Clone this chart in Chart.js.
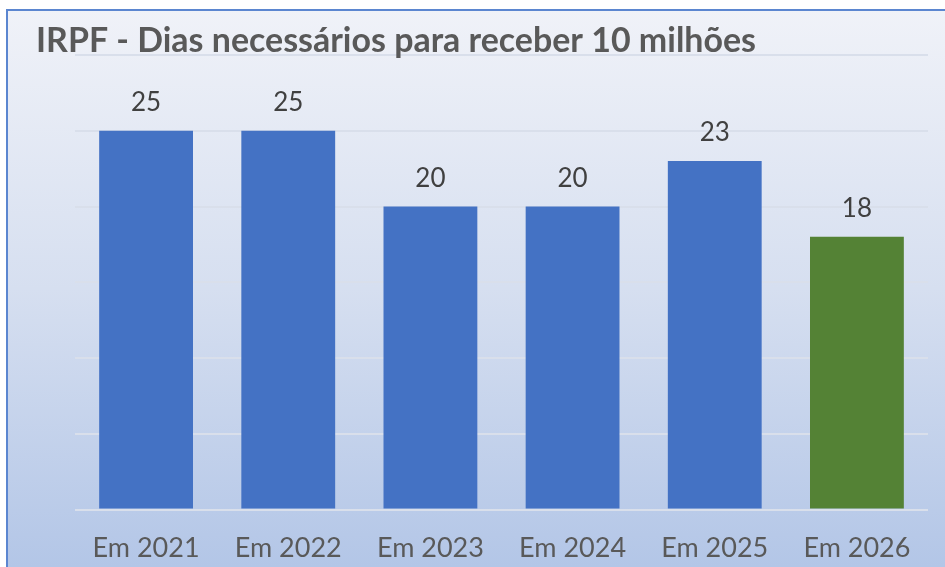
<!DOCTYPE html>
<html>
<head>
<meta charset="utf-8">
<script src="https://cdn.jsdelivr.net/npm/chart.js@4/dist/chart.umd.min.js"></script>
<style>
  html, body { margin: 0; padding: 0; background: #fff; }
  #wrap { width: 945px; height: 567px; }
</style>
</head>
<body>
<div id="wrap"><canvas id="chart" width="945" height="567"></canvas></div>
<script>
const ctx = document.getElementById('chart').getContext('2d');

const titleText = 'IRPF - Dias necessários para receber 10 milhões';
const labels = ['Em 2021', 'Em 2022', 'Em 2023', 'Em 2024', 'Em 2025', 'Em 2026'];
const dias = [25, 25, 20, 20, 23, 18];
const barColors = ['#4472C4', '#4472C4', '#4472C4', '#4472C4', '#4472C4', '#548235'];

// background panel with gradient + title
const panel = {
    id: 'panel',
    beforeDraw(chart) {
        const c = chart.ctx;
        c.save();
        c.fillStyle = '#ffffff';
        c.fillRect(0, 0, chart.width, chart.height);
        const g = c.createLinearGradient(0, 10, 0, chart.height);
        g.addColorStop(0, '#f0f2f8');
        g.addColorStop(0.5, '#d6dff0');
        g.addColorStop(1, '#b3c6e7');
        c.fillStyle = g;
        c.fillRect(7, 10, chart.width - 7, chart.height - 10);
        c.strokeStyle = '#5b86d0';
        c.lineWidth = 2;
        c.beginPath();
        c.moveTo(7, chart.height);
        c.lineTo(7, 10);
        c.lineTo(chart.width, 10);
        c.stroke();
        c.restore();
    },
    afterDraw(chart) {
        const c = chart.ctx;
        c.save();
        c.font = 'bold 34px Lato';
        c.fillStyle = '#595959';
        c.textBaseline = 'alphabetic';
        c.fillText(titleText, 36, 52, 720);
        c.restore();
    }
};

// value labels above bars
const valueLabels = {
    id: 'valueLabels',
    afterDatasetsDraw(chart) {
        const c = chart.ctx;
        const meta = chart.getDatasetMeta(0);
        c.save();
        c.font = '26px Lato';
        c.fillStyle = '#404040';
        c.textAlign = 'center';
        c.textBaseline = 'middle';
        meta.data.forEach((bar, i) => {
            c.fillText(String(dias[i]), bar.x, bar.y - 28);
        });
        c.restore();
    }
};

const config = {
    type: 'bar',
    data: {
        labels: labels,
        datasets: [{
            data: dias,
            backgroundColor: barColors,
            borderWidth: 0,
            categoryPercentage: 1,
            barPercentage: 0.66,
        }]
    },
    options: {
        responsive: false,
        animation: false,
        layout: {
            padding: { top: 55, left: 75, right: 17, bottom: -11 }
        },
        plugins: {
            legend: { display: false },
            title: { display: false },
            tooltip: { enabled: false }
        },
        scales: {
            x: {
                grid: { display: false },
                border: { display: false },
                ticks: {
                    color: '#595959',
                    font: { family: 'Lato', size: 27 },
                    padding: 14,
                    maxRotation: 0,
                }
            },
            y: {
                min: 0,
                max: 30,
                ticks: { display: false, stepSize: 5 },
                border: { display: false },
                grid: {
                    color: '#d9dfeb',
                    lineWidth: 2,
                    drawTicks: false,
                }
            }
        }
    },
    plugins: [panel, valueLabels]
};

const myChart = new Chart(ctx, config);
</script>
</body>
</html>
